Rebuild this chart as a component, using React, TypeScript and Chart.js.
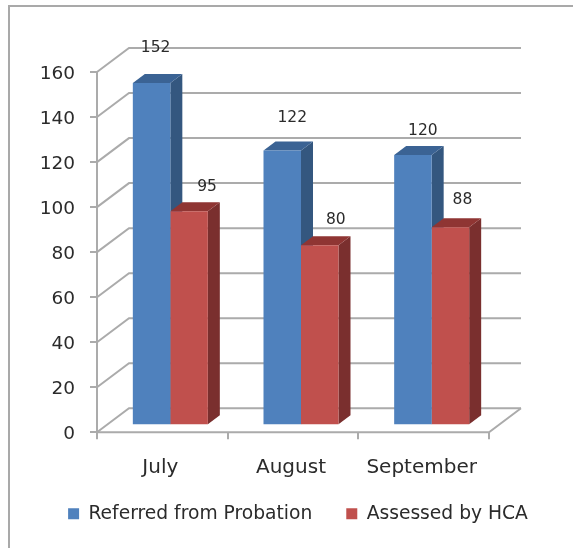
import React, { useEffect, useRef } from "react";
import { Chart, registerables } from "chart.js";

Chart.register(...registerables);

const categories = ["July", "August", "September"];
const referred = [152, 122, 120];
const assessed = [95, 80, 88];
const yTicksMax = 160;
const yStep = 20;

const FONT = '"DejaVu Sans", sans-serif';
const TEXT = "#2b2b2b";
const GRID = "#ababab";

const WALL = { dx: 32, dy: -24 };
const BAR_PLANE = { dx: 8, dy: -7 };
const BAR_DEPTH = { dx: 12, dy: -9 };
const faces = [
  { top: "#3b6394", side: "#34577f" },
  { top: "#8f3533", side: "#7a2f2e" },
];
const labelOffsets = [
  [{ x: 4, y: -35 }, { x: 10, y: -33 }, { x: 10, y: -24 }],
  [{ x: 18, y: -24 }, { x: 16, y: -25 }, { x: 12, y: -27 }],
];

const scenePlugin = {
  id: "scene",
  afterLayout(chart: any) {
    // the category labels sit in the band the legend's padding reserves
    chart.scales.x.bottom = chart.height;
  },
  beforeDraw(chart: any) {
    const { ctx } = chart;
    ctx.save();
    ctx.strokeStyle = "#a9a9a9";
    ctx.lineWidth = 2;
    ctx.beginPath();
    ctx.moveTo(9, 548);
    ctx.lineTo(9, 6);
    ctx.lineTo(573, 6);
    ctx.stroke();
    ctx.restore();
  },
  beforeDatasetsDraw(chart: any) {
    const { ctx, chartArea: a, scales } = chart;
    const y = scales.y;
    ctx.save();
    ctx.strokeStyle = GRID;
    ctx.lineWidth = 2;
    y.ticks.forEach((t: any) => {
      const py = y.getPixelForValue(t.value);
      ctx.beginPath();
      ctx.moveTo(a.left, py);
      ctx.lineTo(a.left + WALL.dx, py + WALL.dy);
      ctx.lineTo(a.right + WALL.dx, py + WALL.dy);
      ctx.stroke();
    });
    ctx.beginPath();
    ctx.moveTo(a.left, a.bottom);
    ctx.lineTo(a.right, a.bottom);
    ctx.lineTo(a.right + WALL.dx, a.bottom + WALL.dy);
    ctx.stroke();
    ctx.restore();

    ctx.save();
    ctx.translate(BAR_PLANE.dx, BAR_PLANE.dy);
    chart.data.datasets.forEach((_: any, di: number) => {
      chart.getDatasetMeta(di).data.forEach((bar: any) => {
        const l = bar.x - bar.width / 2;
        const r = bar.x + bar.width / 2;
        ctx.fillStyle = faces[di].side;
        ctx.beginPath();
        ctx.moveTo(r, bar.y);
        ctx.lineTo(r + BAR_DEPTH.dx, bar.y + BAR_DEPTH.dy);
        ctx.lineTo(r + BAR_DEPTH.dx, bar.base + BAR_DEPTH.dy);
        ctx.lineTo(r, bar.base);
        ctx.closePath();
        ctx.fill();
        ctx.fillStyle = faces[di].top;
        ctx.beginPath();
        ctx.moveTo(l, bar.y);
        ctx.lineTo(l + BAR_DEPTH.dx, bar.y + BAR_DEPTH.dy);
        ctx.lineTo(r + BAR_DEPTH.dx, bar.y + BAR_DEPTH.dy);
        ctx.lineTo(r, bar.y);
        ctx.closePath();
        ctx.fill();
      });
    });
  },
  afterDatasetsDraw(chart: any) {
    const { ctx } = chart;
    ctx.restore();
    ctx.save();
    ctx.font = `15.5px ${FONT}`;
    ctx.fillStyle = TEXT;
    ctx.textAlign = "center";
    ctx.textBaseline = "middle";
    chart.data.datasets.forEach((ds: any, di: number) => {
      chart.getDatasetMeta(di).data.forEach((bar: any, i: number) => {
        const o = labelOffsets[di][i];
        ctx.fillText(String(ds.data[i]), bar.x + BAR_PLANE.dx + o.x, bar.y + BAR_PLANE.dy + o.y);
      });
    });
    ctx.restore();
  },
};

export default function App() {
  const ref = useRef<HTMLCanvasElement>(null);
  useEffect(() => {
    document.body.style.margin = "0";
    const chart = new Chart(ref.current!, {
      type: "bar",
      data: {
        labels: categories,
        datasets: [
          { label: "Referred from Probation", data: referred, backgroundColor: "#4f81bd", barPercentage: 1, categoryPercentage: 0.574 },
          { label: "Assessed by HCA", data: assessed, backgroundColor: "#c0504d", barPercentage: 1, categoryPercentage: 0.574 },
        ],
      },
      options: {
        responsive: false,
        animation: false,
        layout: { padding: { top: 72, left: 23, right: 0, bottom: 15 } },
        plugins: {
          tooltip: { enabled: false },
          title: { display: false },
          legend: {
            position: "bottom",
            labels: {
              boxWidth: 11,
              boxHeight: 11,
              padding: 34,
              color: TEXT,
              font: { family: FONT, size: 18.7 },
            },
          },
        },
        scales: {
          x: {
            offset: true,
            grid: { display: true, offset: true, drawOnChartArea: false, drawTicks: true, tickLength: 7, color: GRID, lineWidth: 2 },
            border: { display: false },
            ticks: { color: TEXT, padding: 16, labelOffset: -2, font: { family: FONT, size: 20 }, maxRotation: 0 },
            afterFit: (s: any) => { s.height = 38; },
          },
          y: {
            min: 0,
            max: yTicksMax,
            grid: { drawOnChartArea: false, drawTicks: true, tickLength: 7, color: GRID, lineWidth: 2 },
            border: { display: true, color: GRID, width: 2 },
            ticks: { stepSize: yStep, color: TEXT, padding: 15, labelOffset: 2, font: { family: FONT, size: 18.5 } },
            afterFit: (s: any) => { s.width = 74; },
          },
          spacer: {
            type: "linear",
            position: "right",
            display: true,
            min: 0,
            max: 1,
            grid: { display: false, drawTicks: false },
            border: { display: false },
            ticks: { display: false },
            afterFit: (s: any) => { s.width = 84; },
          },
        },
      },
      plugins: [scenePlugin],
    } as any);
    return () => chart.destroy();
  }, []);
  return (
    <canvas
      ref={ref}
      width={573}
      height={548}
      style={{ display: "block", width: 573, height: 548, filter: "blur(0.5px)" }}
    />
  );
}
